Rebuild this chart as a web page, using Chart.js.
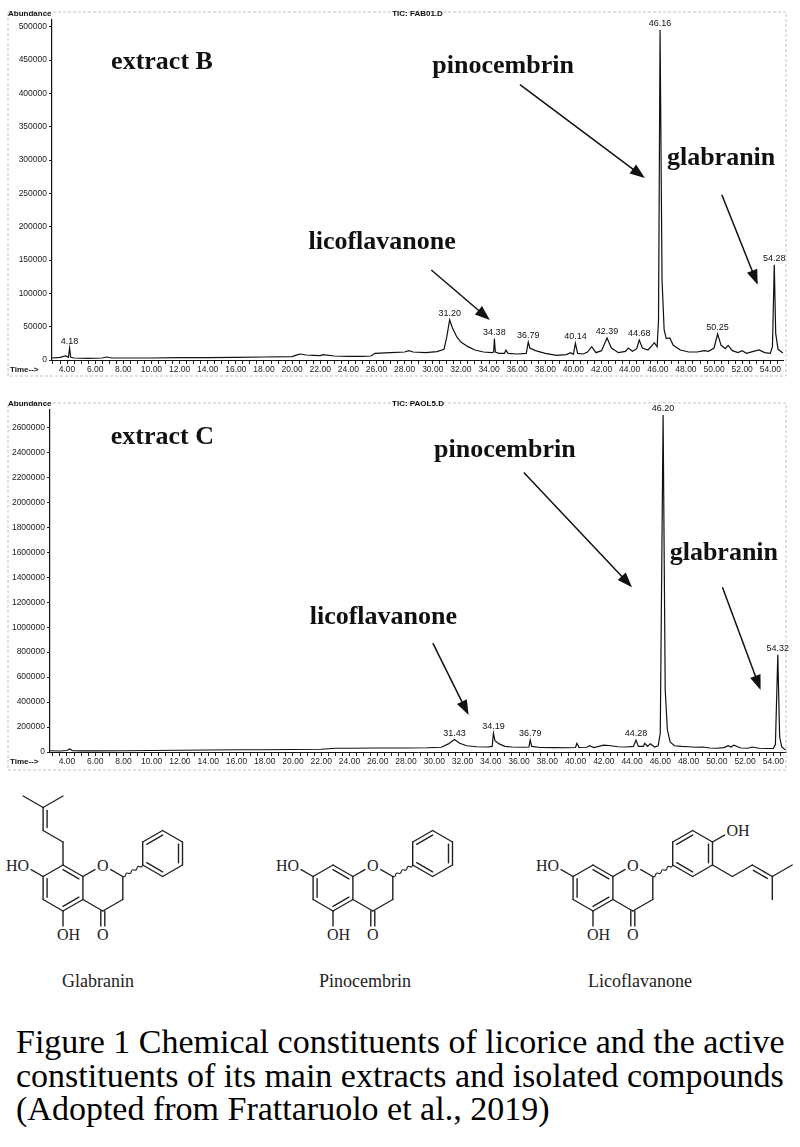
<!DOCTYPE html>
<html><head><meta charset="utf-8">
<script src="https://cdn.jsdelivr.net/npm/chart.js@4.4.1/dist/chart.umd.min.js"></script>
<style>
html,body{margin:0;padding:0;background:#fff;width:800px;height:1147px;overflow:hidden;}
.box{position:absolute;left:0;width:800px;}
#wb{top:0;height:390px;}
#wc{top:395px;height:385px;}
#mol{position:absolute;left:0;top:780px;}
.cap{position:absolute;left:16px;top:1025px;font-family:"Liberation Serif","Times New Roman",serif;font-size:34px;line-height:33.5px;color:#000;white-space:nowrap;}
</style></head><body>
<div class="box" id="wb"><canvas id="cb"></canvas></div>
<div class="box" id="wc"><canvas id="cc"></canvas></div>
<svg id="mol" width="800" height="230" viewBox="0 780 800 230"></svg>
<div class="cap">Figure 1 Chemical constituents of licorice and the active<br>constituents of its main extracts and isolated compounds<br>(Adopted from Frattaruolo et al., 2019)</div>
<script>
// ---------- DATA ----------
const timeTickLabels = [4,6,8,10,12,14,16,18,20,22,24,26,28,30,32,34,36,38,40,42,44,46,48,50,52,54];
const yTicksB = [0,50000,100000,150000,200000,250000,300000,350000,400000,450000,500000];
const yTicksC = [0,200000,400000,600000,800000,1000000,1200000,1400000,1600000,1800000,2000000,2200000,2400000,2600000];

const timesB = [2.93,3.5,3.9,4.1,4.18,4.26,4.5,5.5,6.5,6.8,7.2,8,10,12,14,16,18,20,20.4,20.6,21,21.5,22,22.2,23,24,25,25.6,25.9,27,28,28.3,28.6,29.5,30.3,30.8,31.0,31.2,31.4,31.7,32.0,32.5,33.0,33.6,34.2,34.33,34.38,34.45,34.7,35.1,35.2,35.35,36.0,36.65,36.79,36.9,37.3,38.0,38.8,39.5,39.8,40.0,40.14,40.3,40.7,41.0,41.3,41.6,42.0,42.39,42.7,43.2,43.7,43.9,44.2,44.5,44.68,44.9,45.3,45.6,45.75,45.95,46.05,46.16,46.3,46.45,46.6,46.85,47.1,47.6,48.2,48.8,49.3,49.6,50.0,50.25,50.5,50.8,51.0,51.3,51.7,52.0,52.3,52.8,53.2,53.6,54.0,54.15,54.28,54.38,54.55,54.8,54.9];
const abundB = [3000,4000,6000,4000,18000,4000,3000,2500,3000,4500,3000,3000,3000,3500,3500,4000,4500,5000,8000,9000,7500,7000,6500,8000,6000,5500,5500,6000,10000,11000,12000,14000,12000,11000,12500,16000,35000,60000,48000,35000,27000,20000,15000,12000,11000,12000,32000,12000,10000,10000,15000,10000,9000,10000,27000,18000,14000,10000,7000,8000,11000,8500,25000,10000,9000,12000,20000,11000,14000,33000,18000,11000,13000,18000,13000,17000,30000,18000,15000,22000,26000,20000,60000,495000,120000,45000,32000,33000,22000,15000,12000,12000,14000,13000,18000,39000,22000,17000,22000,14000,11000,14000,10000,13000,15000,11000,10000,20000,143000,40000,16000,12000,11000];
const peaksB = [4.18,31.20,34.38,36.79,40.14,42.39,44.68,46.16,50.25,54.28];

const timesC = [2.8,3.5,4.0,4.2,4.4,5,6,8,10,12,14,16,18,20,22,23,24,26,28,29.5,30.5,31.0,31.43,31.8,32.3,33.0,33.8,34.1,34.19,34.3,34.6,35.0,35.5,36.3,36.7,36.79,36.9,37.5,38.5,39.5,40.0,40.1,40.25,40.8,41.0,41.3,42.0,42.5,43.0,43.6,44.1,44.28,44.45,44.8,44.9,45.1,45.3,45.6,45.85,46.0,46.2,46.35,46.5,46.7,47.0,47.5,48.0,48.5,49.0,49.5,50.0,50.5,50.8,51.0,51.2,51.7,52.2,52.5,53.0,53.5,54.0,54.15,54.32,54.45,54.6,54.8,54.9];
const abundC = [10000,8000,12000,25000,10000,9000,9000,10000,12000,14000,16000,18000,18000,20000,22000,30000,30000,32000,32000,34000,38000,65000,100000,70000,50000,42000,40000,45000,150000,90000,65000,45000,40000,38000,40000,95000,45000,36000,35000,34000,36000,70000,36000,38000,50000,36000,55000,50000,42000,40000,45000,95000,45000,45000,70000,45000,65000,40000,50000,150000,2700000,500000,180000,80000,50000,45000,42000,38000,40000,32000,30000,35000,50000,40000,55000,32000,30000,40000,30000,28000,28000,60000,780000,120000,40000,22000,20000];
const peaksC = [31.43,34.19,36.79,44.28,46.20,54.32];

// ---------- CHART ----------
function drawArrow(ctx, x1, y1, x2, y2){
  const ang = Math.atan2(y2-y1, x2-x1), hl = 15, hw = 5.5;
  ctx.beginPath(); ctx.moveTo(x1,y1);
  ctx.lineTo(x2 - Math.cos(ang)*hl*0.8, y2 - Math.sin(ang)*hl*0.8); ctx.stroke();
  ctx.beginPath(); ctx.moveTo(x2,y2);
  ctx.lineTo(x2 - Math.cos(ang)*hl + Math.sin(ang)*hw, y2 - Math.sin(ang)*hl - Math.cos(ang)*hw);
  ctx.lineTo(x2 - Math.cos(ang)*hl - Math.sin(ang)*hw, y2 - Math.sin(ang)*hl + Math.cos(ang)*hw);
  ctx.closePath(); ctx.fill();
}

const chromPlugin = {
  id: 'chrom',
  afterDraw(chart, args, o){
    const ctx = chart.ctx, xs = chart.scales.x, ys = chart.scales.y, ca = chart.chartArea;
    ctx.save();
    ctx.strokeStyle = '#c4c4c4'; ctx.lineWidth = 1; ctx.setLineDash([3,2]);
    const f = o.frame;
    ctx.strokeRect(f[0], f[1], f[2]-f[0], f[3]-f[1]);
    ctx.setLineDash([]);
    ctx.fillStyle = '#111';
    ctx.font = 'bold 8px "Liberation Sans", Arial, sans-serif';
    ctx.textBaseline = 'middle';
    ctx.textAlign = 'left'; ctx.fillText('Abundance', 8, ca.top - 6);
    ctx.textAlign = 'center'; ctx.fillText(o.tic, (ca.left + ca.right)/2, ca.top - 6);
    ctx.textAlign = 'left'; ctx.fillText('Time-->', 10, ca.bottom + 10);
    ctx.font = '9px "Liberation Sans", Arial, sans-serif';
    ctx.textAlign = 'center'; ctx.textBaseline = 'bottom';
    o.peaks.forEach(p => {
      const i = o.times.indexOf(p);
      ctx.fillText(p.toFixed(2), xs.getPixelForValue(p), ys.getPixelForValue(o.vals[i]) - 2);
    });
    ctx.font = 'bold 26px "Liberation Serif", "Times New Roman", serif';
    ctx.textBaseline = 'middle';
    o.notes.forEach(n => ctx.fillText(n.text, xs.getPixelForValue(n.t), ys.getPixelForValue(n.v)));
    ctx.strokeStyle = '#111'; ctx.fillStyle = '#111'; ctx.lineWidth = 1.5;
    o.arrows.forEach(a => drawArrow(ctx, xs.getPixelForValue(a[0]), ys.getPixelForValue(a[1]), xs.getPixelForValue(a[2]), ys.getPixelForValue(a[3])));
    ctx.restore();
  }
};

function makeChart(id, times, vals, cfg){
  return new Chart(document.getElementById(id), {
    type: 'line',
    data: { datasets: [{ data: times.map((t,i)=>({x:t, y:vals[i]})), borderColor:'#111', borderWidth:1.2, pointRadius:0, tension:0, fill:false }] },
    options: {
      responsive: true, maintainAspectRatio: false, animation: false, events: [],
      layout: { padding: { top: cfg.top, right: cfg.right, left: 0, bottom: 0 } },
      plugins: { legend: {display:false}, tooltip: {enabled:false}, chrom: cfg.plugin },
      scales: {
        x: { type:'linear', min: cfg.xmin, max: 54.9,
             afterBuildTicks: ax => { const t=[]; for (let k=6;k<=109;k++) t.push({value:k/2}); ax.ticks=t; },
             afterFit: ax => { ax.height = cfg.xh; },
             grid: { drawOnChartArea:false, tickLength:4, color:'#222' },
             border: { display:true, color:'#111', width:1 },
             ticks: { autoSkip:false, maxRotation:0, padding:1, color:'#222', font:{family:'"Liberation Sans", Arial', size:8.5},
                      callback: v => timeTickLabels.includes(v) ? v.toFixed(2) : '' } },
        y: { min:0, max: cfg.ymax,
             afterBuildTicks: ax => { ax.ticks = cfg.yticks.map(v=>({value:v})); },
             afterFit: ax => { ax.width = cfg.yw; },
             grid: { drawOnChartArea:false, tickLength:3, color:'#222' },
             border: { display:true, color:'#111', width:1.2 },
             ticks: { padding:2, color:'#222', font:{family:'"Liberation Sans", Arial', size:8.5}, callback: v => String(v) } }
      }
    },
    plugins: [chromPlugin]
  });
}

makeChart('cb', timesB, abundB, {
  top:20, right:17, xh:30, yw:52, xmin:2.93, ymax:510000, yticks:yTicksB,
  plugin: { frame:[8,12,786,376], tic:'TIC: FAB01.D', times:timesB, vals:abundB, peaks:peaksB,
    notes:[{text:'extract B',t:10.75,v:446000},{text:'pinocembrin',t:35.0,v:441000},{text:'glabranin',t:50.5,v:303000},{text:'licoflavanone',t:26.4,v:176000}],
    arrows:[[36.2,413000,45.08,273000],[50.55,248000,53.1,113000],[29.9,135000,34.06,60000]] }
});
makeChart('cc', timesC, abundC, {
  top:15, right:14, xh:28, yw:50, xmin:2.8, ymax:2740000, yticks:yTicksC,
  plugin: { frame:[8,8,786,375], tic:'TIC: PAOL5.D', times:timesC, vals:abundC, peaks:peaksC,
    notes:[{text:'extract C',t:10.75,v:2520000},{text:'pinocembrin',t:35.0,v:2416000},{text:'glabranin',t:50.5,v:1592000},{text:'licoflavanone',t:26.4,v:1080000}],
    arrows:[[36.34,2240000,44.0,1320000],[50.4,1320000,53.1,496000],[29.9,872000,32.43,296000]] }
});

// ---------- STRUCTURES ----------
const svg = document.getElementById('mol');
let out = '';
function ln(a,b){ out += `<line x1="${a[0].toFixed(1)}" y1="${a[1].toFixed(1)}" x2="${b[0].toFixed(1)}" y2="${b[1].toFixed(1)}" stroke="#222" stroke-width="1.4" stroke-linecap="round"/>`; }
function inner(a,b,c){ const k=0.2; ln([a[0]+(c[0]-a[0])*k, a[1]+(c[1]-a[1])*k],[b[0]+(c[0]-b[0])*k, b[1]+(c[1]-b[1])*k]); }
function txt(x,y,s,anchor,size){ out += `<text x="${x}" y="${y}" text-anchor="${anchor||'middle'}" font-family="Liberation Serif, Times New Roman, serif" font-size="${size||16}" fill="#222">${s}</text>`; }
function lerp(a,b,t){ return [a[0]+(b[0]-a[0])*t, a[1]+(b[1]-a[1])*t]; }
const L = 23, H = L*Math.sqrt(3)/2;
function hex(c){ return [[c[0],c[1]-L],[c[0]+H,c[1]-L/2],[c[0]+H,c[1]+L/2],[c[0],c[1]+L],[c[0]-H,c[1]+L/2],[c[0]-H,c[1]-L/2]]; }
function wavy(a,b){
  const n=7, dx=(b[0]-a[0])/n, dy=(b[1]-a[1])/n, len=Math.hypot(dx,dy), px=-dy/len*2, py=dx/len*2;
  let d=`M${a[0]},${a[1]}`;
  for(let i=0;i<n;i++){ const s=(i%2?-1:1); d+=` Q${a[0]+dx*(i+0.5)+px*s},${a[1]+dy*(i+0.5)+py*s} ${a[0]+dx*(i+1)},${a[1]+dy*(i+1)}`; }
  out += `<path d="${d}" fill="none" stroke="#222" stroke-width="1.1"/>`;
}
function flavanone(dx){
  const cA=[63+dx,888], A=hex(cA);
  for(let i=0;i<6;i++) ln(A[i],A[(i+1)%6]);
  inner(A[0],A[1],cA); inner(A[2],A[3],cA); inner(A[4],A[5],cA);
  const cC=[cA[0]+2*H,888], C=hex(cC);
  ln(A[1],lerp(A[1],C[0],0.6)); ln(lerp(C[0],C[1],0.4),C[1]); ln(C[1],C[2]); ln(C[2],C[3]); ln(C[3],A[2]);
  txt(C[0][0], C[0][1]+5.5, 'O');
  ln([C[3][0]-2,C[3][1]],[C[3][0]-2,C[3][1]+15]); ln([C[3][0]+2,C[3][1]],[C[3][0]+2,C[3][1]+15]);
  txt(C[3][0], C[3][1]+29, 'O');
  ln(A[3],[A[3][0],A[3][1]+15]); txt(A[3][0]-6, A[3][1]+29, 'OH','start');
  const oHO=[A[5][0]-H, A[5][1]-L/2];
  ln(A[5], lerp(A[5],oHO,0.6)); txt(oHO[0]+6, oHO[1]+5.5, 'HO','end');
  const P=[C[1][0]+H, C[1][1]-L/2];
  wavy(C[1],P);
  const cB=[P[0]+H, P[1]-L/2], B=hex(cB);
  for(let i=0;i<6;i++) ln(B[i],B[(i+1)%6]);
  inner(B[5],B[0],cB); inner(B[1],B[2],cB); inner(B[3],B[4],cB);
  return {A, B, cB};
}
const g = flavanone(0);
{
  const p1=[g.A[0][0], g.A[0][1]-L], p2=[p1[0]-H, p1[1]-L/2], p3=[p2[0], p2[1]-L];
  ln(g.A[0],p1); ln(p1,p2); ln(p2,p3); ln([p2[0]+4,p2[1]-3],[p3[0]+4,p3[1]+3]);
  ln(p3,[p3[0]-H,p3[1]-L/2]); ln(p3,[p3[0]+H,p3[1]-L/2]);
}
txt(98, 987, 'Glabranin', 'middle', 18);
flavanone(270);
txt(365, 987, 'Pinocembrin', 'middle', 18);
const l = flavanone(530);
{
  const ur=l.B[1], oh=[ur[0]+H, ur[1]-L/2];
  ln(ur, lerp(ur,oh,0.6)); txt(oh[0]-6, oh[1]+5.5, 'OH','start');
  const lr=l.B[2], q1=[lr[0]+H, lr[1]+L/2], q2=[q1[0]+H, q1[1]-L/2], q3=[q2[0]+H, q2[1]+L/2];
  ln(lr,q1); ln(q1,q2); ln(q2,q3);
  const ia=lerp(q2,q3,0.15), ib=lerp(q2,q3,0.85); ln([ia[0]-2,ia[1]+3.6],[ib[0]-2,ib[1]+3.6]);
  ln(q3,[q3[0]+H,q3[1]-L/2]); ln(q3,[q3[0],q3[1]+L]);
}
txt(640, 987, 'Licoflavanone', 'middle', 18);
svg.innerHTML = out;
</script>
</body></html>
